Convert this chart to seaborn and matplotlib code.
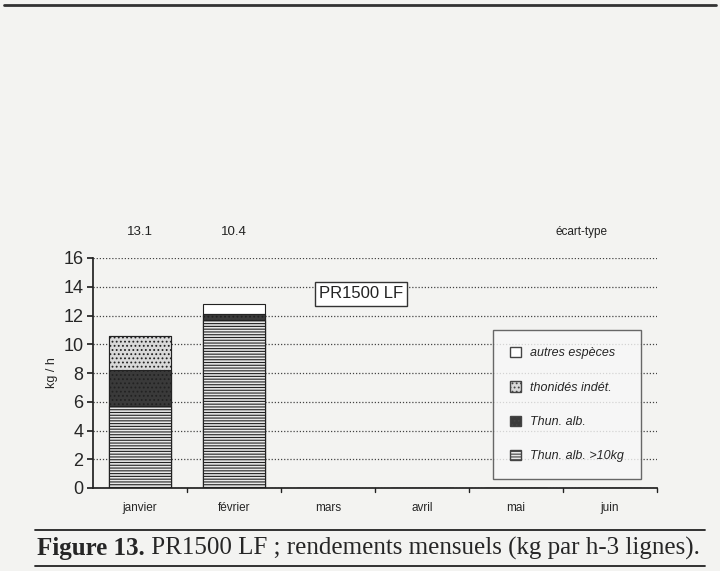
import matplotlib
matplotlib.use("Agg")
import matplotlib.pyplot as plt
import seaborn as sns
import numpy as np
import pandas as pd
from matplotlib.patches import Patch

months = ["janvier", "février", "mars", "avril", "mai", "juin"]
thun_alb_10 = [5.7, 11.7, 0, 0, 0, 0]
thun_alb = [2.5, 0.4, 0, 0, 0, 0]
thonides = [2.4, 0.0, 0, 0, 0, 0]
autres = [0.0, 0.7, 0, 0, 0, 0]
std_labels = ["13.1", "10.4", "", "", "", ""]
series_names = ["autres espèces", "thonidés indét.", "Thun. alb.", "Thun. alb. >10kg"]

sns.set_theme(style="white")
plt.rcParams['font.family'] = ['Liberation Sans', 'DejaVu Sans']
plt.rcParams['hatch.linewidth'] = 0.8

bg = "#f3f3f1"
fig = plt.figure(figsize=(7.2, 5.71), dpi=100, facecolor=bg)
ax = fig.add_axes([93/720, 1-488/571, 564/720, 230/571])
ax.set_facecolor(bg)

layers = [thun_alb_10, thun_alb, thonides, autres]
cum = np.cumsum(np.array(layers), axis=0)
styles = [
    dict(color="#e8e8e8", hatch="------"),
    dict(color="#3a3a3a", hatch="...."),
    dict(color="#d9d9d9", hatch="...."),
    dict(color="#ffffff", hatch=None),
]
for i in range(3, -1, -1):
    df = pd.DataFrame({"mois": months, "val": cum[i]})
    sns.barplot(data=df, x="mois", y="val", order=months, ax=ax,
                color=styles[i]["color"], width=0.67, edgecolor="#222222",
                linewidth=0.8, saturation=1)
    n = len(months)
    for p in ax.patches[-n:]:
        if styles[i]["hatch"]:
            p.set_hatch(styles[i]["hatch"])

ax.set_ylim(0, 16)
ax.set_xlim(-0.5, 5.5)
ax.set_yticks(range(0, 17, 2))
ax.yaxis.grid(True, linestyle=(0, (1, 1.5)), color="#444444", linewidth=0.9)
ax.set_axisbelow(True)
for s in ["top", "right"]:
    ax.spines[s].set_visible(False)
ax.spines["left"].set_color("#222222")
ax.spines["bottom"].set_color("#222222")
ax.tick_params(axis="y", labelsize=13, length=4, left=True, color="#222222", pad=3)
ax.tick_params(axis="x", labelsize=8.5, length=0, pad=10)
ax.set_xticks(range(6))
ax.set_xticklabels(months)
for xb in np.arange(0.5, 5.6, 1):
    ax.plot([xb, xb], [0, -0.25], color="#222222", lw=1, clip_on=False)
ax.set_xlabel("")
ax.set_ylabel("kg / h", fontsize=9, labelpad=4)

for i, t in enumerate(std_labels):
    if t:
        ax.text(i, 17.8, t, ha="center", va="center", fontsize=9.5, color="#222222")
ax.text(4.7, 17.8, "écart-type", ha="center", va="center", fontsize=8.5, color="#222222")

ax.text(2.35, 13.5, "PR1500 LF", ha="center", va="center", fontsize=12, color="#222222",
        bbox=dict(boxstyle="square,pad=0.25", fc="white", ec="#333333", lw=1))

handles = [Patch(facecolor=styles[3]["color"], edgecolor="#444444"),
           Patch(facecolor=styles[2]["color"], edgecolor="#444444", hatch="...."),
           Patch(facecolor=styles[1]["color"], edgecolor="#444444", hatch="...."),
           Patch(facecolor=styles[0]["color"], edgecolor="#444444", hatch="------")]
leg = ax.legend(handles, series_names, loc="upper left", bbox_to_anchor=(400/564, (488-330)/230),
                borderaxespad=0, frameon=True, fancybox=False, edgecolor="#444444",
                labelspacing=1.75, handlelength=0.9, handleheight=0.9, borderpad=1.35,
                handletextpad=0.7, prop={'style': 'italic', 'size': 9})
leg.get_frame().set_facecolor("#f8f8f8")

fig.add_artist(plt.Line2D([0.005, 0.995], [1-5/571, 1-5/571], color="#333333", lw=2))
fig.add_artist(plt.Line2D([35/720, 705/720], [1-530/571, 1-530/571], color="#222222", lw=1.3))
fig.add_artist(plt.Line2D([35/720, 705/720], [1-566/571, 1-566/571], color="#222222", lw=1.3))
t1 = fig.text(37/720, 1-548/571, "Figure 13.", fontsize=18, fontweight="bold",
              family=["Liberation Serif"], va="center", ha="left")
fig.canvas.draw()
bb = t1.get_window_extent()
x2 = bb.x1 / fig.bbox.width
fig.text(x2, 1-548/571, " PR1500 LF ; rendements mensuels (kg par h-3 lignes).",
         fontsize=18, family=["Liberation Serif"], va="center", ha="left")

fig.savefig("out.png", dpi=100, facecolor=bg)
